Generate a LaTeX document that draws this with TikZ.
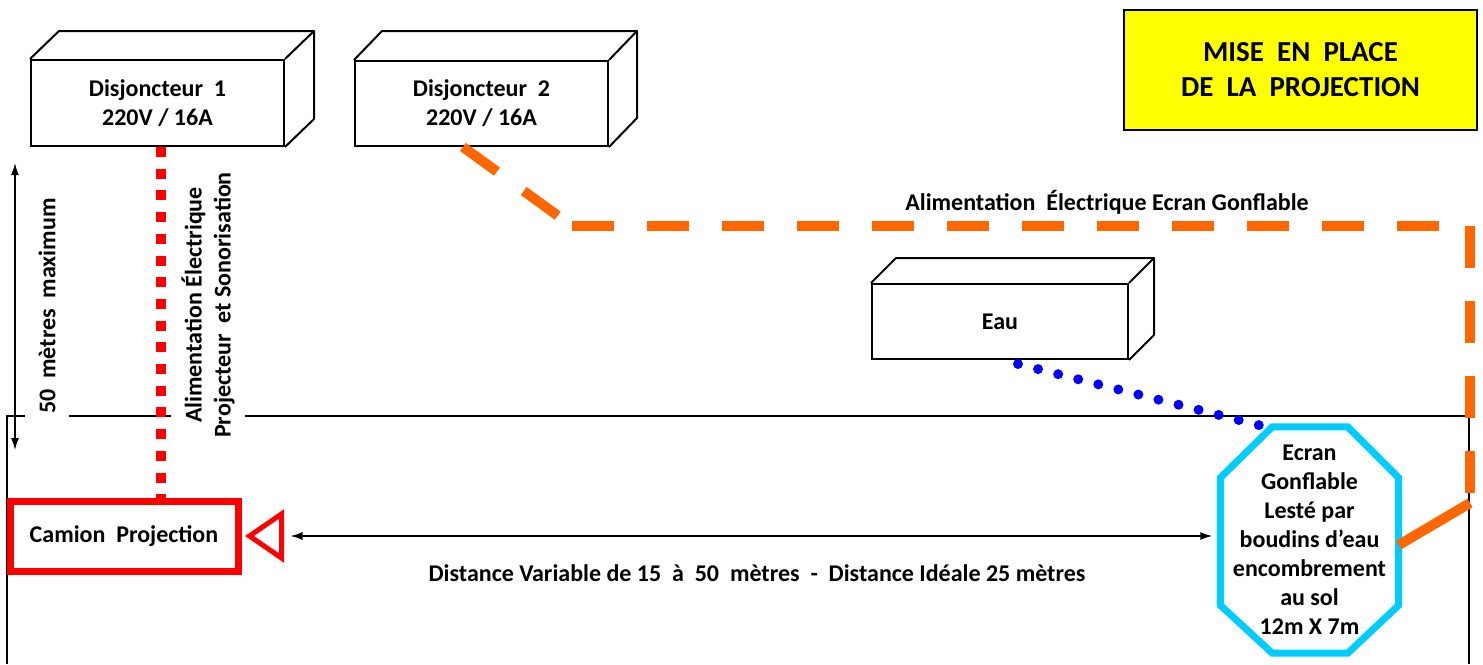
\documentclass[tikz,border=0pt]{standalone}
\usepackage{fontspec}
\setmainfont{Carlito}
\usetikzlibrary{arrows.meta}

\definecolor{cableorange}{RGB}{255,102,0}
\definecolor{screencyan}{RGB}{0,204,255}
\definecolor{waterblue}{RGB}{0,0,255}
\definecolor{titleyellow}{RGB}{255,255,0}

\begin{document}
\begin{tikzpicture}[
    x=1pt, y=-1pt, % pixel coordinates, y going down
    txt/.style={font=\fontsize{24}{29}\selectfont\bfseries, align=center, inner sep=0pt},
    cuboid/.style={txt, draw, line width=2pt},
    truck/.style={txt, draw=red, line width=7pt},
    titlebox/.style={txt, draw, fill=titleyellow, line width=2.5pt, font=\fontsize{29}{35}\selectfont\bfseries},
    covered/.style={txt, fill=white, rotate=90},
    lensline/.style={draw=red, line width=5pt, line join=miter},
    screenline/.style={draw=screencyan, line width=7pt, line join=miter},
    redcable/.style={draw=red, line width=10pt, dash pattern=on 10pt off 11.7pt},
    orangecable/.style={draw=cableorange, line width=10pt, dash pattern=on 42pt off 33pt},
    watercable/.style={draw=waterblue, line width=10pt, line cap=round, dash pattern=on 0pt off 20.7pt},
    dim/.style={{Latex[length=12pt, width=8pt]}-{Latex[length=12pt, width=8pt]}, line width=1.5pt},
    ground/.style={line width=2pt}
]
\useasboundingbox (0,0) rectangle (1483,664);

% ground outline
\draw[ground] (7,664) -- (7,416) -- (1469,416) -- (1469,664);

% texts sitting on the ground line
\node[covered, inner sep=13pt] (maxlabel) at (47,306) {50~~mètres~~maximum};
\node[covered, inner sep=10pt] (feedlabel) at (208,305) {Alimentation Électrique\\Projecteur~~et Sonorisation};

% boxes
\node[cuboid, minimum width=253pt, minimum height=86pt] (dj1) at (157.5,103) {Disjoncteur~~1\\220V / 16A};
\node[cuboid, minimum width=253pt, minimum height=85pt] (dj2) at (481.5,103.5) {Disjoncteur~~2\\220V / 16A};
\node[cuboid, minimum width=256pt, minimum height=75pt] (eau) at (1000,321.5) {Eau};
\node[titlebox, minimum width=353pt, minimum height=120pt] (title) at (1300.5,70) {MISE~~EN~~PLACE\\DE~~LA~~PROJECTION};
\node[truck, minimum width=228pt, minimum height=70pt] (camion) at (124,536) {Camion~~Projection};
\node[txt, minimum width=178pt, minimum height=226pt] (screen) at (1309.5,540) {Ecran\\Gonflable\\Lesté par\\boudins d’eau\\encombrement\\au sol\\12m X 7m};

% box depth
\draw[line width=2pt, line join=round] (dj1.north west) -- ++(29,-28) -| ([shift={(29,-28)}]dj1.south east) -- (dj1.south east);
\draw[line width=2pt] (dj1.north east) -- ++(29,-28);
\draw[line width=2pt, line join=round] (dj2.north west) -- ++(28,-29) -| ([shift={(28,-29)}]dj2.south east) -- (dj2.south east);
\draw[line width=2pt] (dj2.north east) -- ++(28,-29);
\draw[line width=2pt, line join=round] (eau.north west) -- ++(25,-25) -| ([shift={(25,-25)}]eau.south east) -- (eau.south east);
\draw[line width=2pt] (eau.north east) -- ++(25,-25);

% projector lens
\draw[lensline] ([xshift=8]camion.east) -- ++(32,-22) -- ++(0,44) -- cycle;
\coordinate (lens) at ([xshift=49]camion.east);

% inflatable screen outline
\draw[screenline] ([xshift=52]screen.north west) -- ([xshift=-51]screen.north east)
    -- ([yshift=-51]screen.north east) -- ([yshift=48]screen.south east)
    -- ([xshift=-51]screen.south east) -- ([xshift=52]screen.south west)
    -- ([yshift=48]screen.south west) -- ([yshift=-51]screen.north west) -- cycle;

% cables
\draw[redcable] ([xshift=3.5]dj1.south) -- ([xshift=3.5]dj1.south |- camion.north);
\coordinate (bend1) at (572,226);
\coordinate (bend2) at (1470,226);
\coordinate (bend3) at (1470,503);
\draw[orangecable] ([xshift=-18.5]dj2.south) -- (bend1);
\draw[orangecable] (bend1) -- (bend2);
\draw[orangecable] (bend2) -- (bend3);
\draw[draw=cableorange, line width=10pt] (bend3) -- ([yshift=-5]screen.east);
\node[txt] (powerlabel) at (1107,202) {Alimentation~~Électrique Ecran Gonflable};
\draw[watercable] ([shift={(18,4)}]eau.south) -- ([xshift=-44]screen.north);

% distances
\coordinate (top50) at (15,163);
\coordinate (bot50) at (15,450);
\draw[dim] (top50) -- (bot50);
\draw[dim, shorten >=8pt] (lens) -- (lens -| screen.west);
\node[txt] (distlabel) at (757,573) {Distance Variable de 15~~à~~50~~mètres~~-~~Distance Idéale 25 mètres};

\end{tikzpicture}
\end{document}
